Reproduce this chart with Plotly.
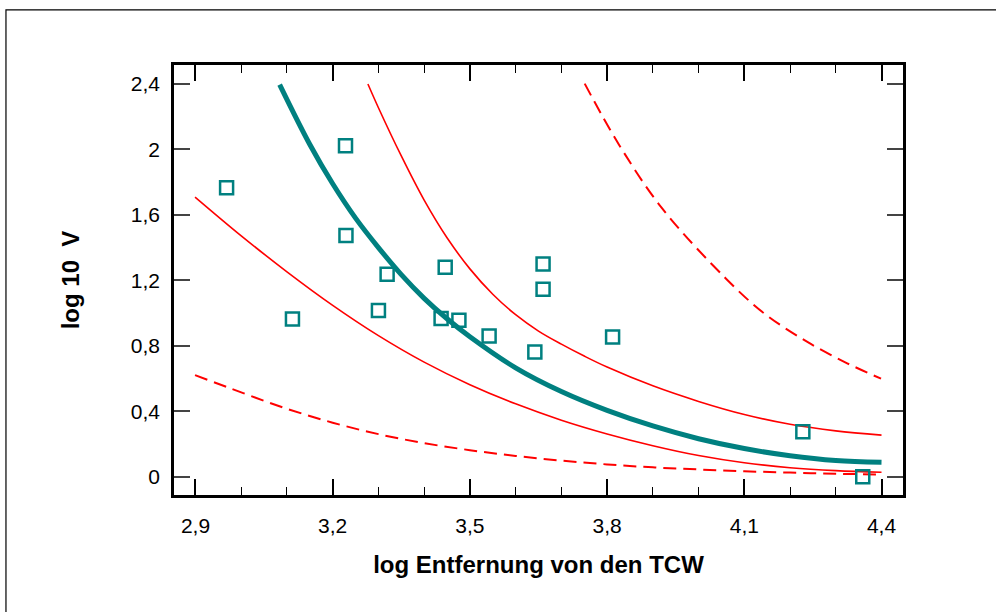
import plotly.graph_objects as go

# Measured data points
pts_x = [2.968, 3.228, 3.229, 3.319, 3.112, 3.300, 3.437, 3.476, 3.542, 3.660, 3.642, 3.812, 3.446, 3.660, 4.228, 4.359]
pts_y = [1.766, 2.023, 1.474, 1.237, 0.964, 1.015, 0.966, 0.956, 0.860, 1.146, 0.762, 0.854, 1.280, 1.300, 0.274, 0.000]

# Fitted curve (teal)
fit_x = [3.084, 3.15, 3.20, 3.25, 3.30, 3.35, 3.40, 3.45, 3.50, 3.60, 3.70, 3.80, 3.90, 4.00, 4.10, 4.20, 4.30, 4.40]
fit_y = [2.396, 2.03, 1.79, 1.58, 1.40, 1.235, 1.09, 0.965, 0.855, 0.665, 0.52, 0.405, 0.31, 0.232, 0.172, 0.128, 0.099, 0.088]

# Upper solid red
up_x = [3.277, 3.30, 3.35, 3.40, 3.45, 3.50, 3.55, 3.60, 3.65, 3.70, 3.75, 3.80, 3.90, 4.00, 4.10, 4.20, 4.30, 4.40]
up_y = [2.400, 2.255, 1.96, 1.69, 1.46, 1.27, 1.115, 0.99, 0.89, 0.81, 0.737, 0.67, 0.555, 0.46, 0.38, 0.32, 0.28, 0.254]

# Lower solid red
lo_x = [2.899, 3.0, 3.1, 3.2, 3.3, 3.4, 3.5, 3.6, 3.7, 3.8, 3.9, 4.0, 4.1, 4.2, 4.3, 4.4]
lo_y = [1.709, 1.472, 1.252, 1.047, 0.862, 0.700, 0.562, 0.445, 0.345, 0.261, 0.189, 0.129, 0.085, 0.055, 0.037, 0.027]

# Lower dashed red
dlo_x = [2.899, 3.0, 3.1, 3.2, 3.3, 3.4, 3.5, 3.6, 3.7, 3.8, 3.9, 4.0, 4.1, 4.2, 4.3, 4.4]
dlo_y = [0.621, 0.515, 0.415, 0.330, 0.260, 0.205, 0.162, 0.127, 0.098, 0.075, 0.057, 0.044, 0.033, 0.025, 0.018, 0.013]

# Upper dashed red
dup_x = [3.751, 3.826, 3.920, 4.059, 4.143, 4.237, 4.325, 4.399]
dup_y = [2.402, 2.029, 1.641, 1.213, 0.999, 0.825, 0.693, 0.599]

x_ticks = [2.9, 3.2, 3.5, 3.8, 4.1, 4.4]
y_ticks = [0, 0.4, 0.8, 1.2, 1.6, 2, 2.4]

TEAL = "#008080"
RED = "#ff0000"

fig = go.Figure()
fig.add_trace(go.Scatter(x=dlo_x, y=dlo_y, mode="lines", line=dict(color=RED, width=2, dash="13px,7px", shape="spline"), showlegend=False))
fig.add_trace(go.Scatter(x=dup_x, y=dup_y, mode="lines", line=dict(color=RED, width=2, dash="13px,7px", shape="spline"), showlegend=False))
fig.add_trace(go.Scatter(x=lo_x, y=lo_y, mode="lines", line=dict(color=RED, width=1.6, shape="spline"), showlegend=False))
fig.add_trace(go.Scatter(x=up_x, y=up_y, mode="lines", line=dict(color=RED, width=1.6, shape="spline"), showlegend=False))
fig.add_trace(go.Scatter(x=fit_x, y=fit_y, mode="lines", line=dict(color=TEAL, width=5, shape="spline"), showlegend=False))
fig.add_trace(go.Scatter(x=pts_x, y=pts_y, mode="markers",
                         marker=dict(symbol="square-open", size=13, color=TEAL, line=dict(width=2.5, color=TEAL)),
                         showlegend=False))

font_fam = "Liberation Sans, Arial, sans-serif"
fig.update_layout(
    width=996, height=612,
    margin=dict(l=174, r=93, t=65, b=117),
    paper_bgcolor="white", plot_bgcolor="white",
    separators=", ",
    font=dict(family=font_fam, size=21, color="black"),
    xaxis=dict(
        range=[2.853, 4.447], tickvals=x_ticks, ticks="inside", ticklen=16, tickwidth=1.5, tickcolor="black",
        minor=dict(dtick=0.1, tick0=2.9, ticks="inside", ticklen=8, tickwidth=1.2, tickcolor="black"),
        showline=True, linewidth=2.5, linecolor="black", mirror="ticks", showgrid=False, zeroline=False,
        ticklabelstandoff=10,
        title=dict(text="<b>log Entfernung von den TCW</b>", font=dict(size=24), standoff=21),
    ),
    yaxis=dict(
        range=[-0.112, 2.516], tickvals=y_ticks, ticks="inside", ticklen=16, tickwidth=1.5, tickcolor="#444",
        showline=True, linewidth=2.5, linecolor="black", mirror="ticks", showgrid=False, zeroline=False,
        ticklabelstandoff=7,
        title=dict(text="<b>log 10\u00a0 V</b>", font=dict(size=24), standoff=45),
    ),
    shapes=[dict(type="rect", xref="paper", yref="paper", x0=-0.2305, x1=1.14, y0=-0.3, y1=1.128,
                 line=dict(color="black", width=1.2), fillcolor="rgba(0,0,0,0)", layer="below")],
)

fig.write_html("out.html")
